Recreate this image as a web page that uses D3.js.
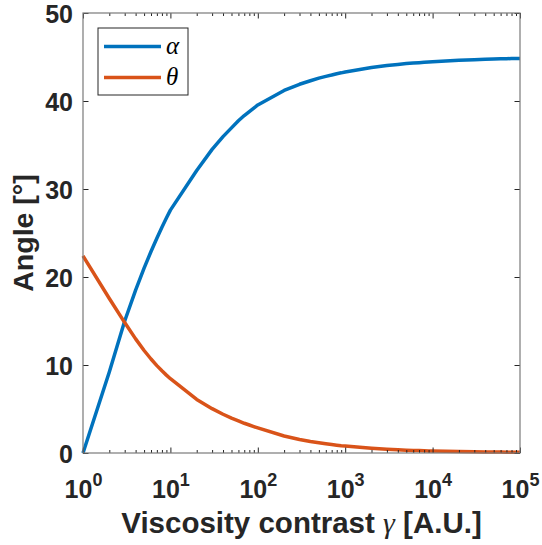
<!DOCTYPE html>
<html>
<head>
<meta charset="utf-8">
<script src="https://cdn.jsdelivr.net/npm/d3@7"></script>
<style>
  body { margin: 0; background: #fff; }
  svg { display: block; }
</style>
</head>
<body>
<svg id="chart" width="542" height="545"></svg>
<script>
// viscosity contrast samples (x) and the two angles
const gammaValues = [
    1, 2, 3, 4, 5, 6, 7, 8, 9,
    10, 20, 30, 40, 50, 60, 70, 80, 90,
    100, 200, 300, 400, 500, 600, 700, 800, 900,
    1000, 2000, 3000, 4000, 5000, 6000, 7000, 8000, 9000,
    10000, 20000, 30000, 40000, 50000, 60000, 70000, 80000, 90000,
    100000
];
const alphaValues = [
    0, 9.2, 15.0, 18.5, 21.0, 22.9, 24.4, 25.65, 26.7,
    27.6, 32.1, 34.5, 35.95, 36.95, 37.75, 38.35, 38.8, 39.2,
    39.55, 41.2, 41.9, 42.3, 42.6, 42.8, 42.95, 43.1, 43.2,
    43.3, 43.8, 44.03, 44.16, 44.25, 44.31, 44.36, 44.41, 44.44,
    44.47, 44.63, 44.7, 44.74, 44.77, 44.79, 44.81, 44.82, 44.83,
    44.84
];
const thetaValues = [
    22.4, 17.56, 14.82, 12.97, 11.65, 10.68, 9.93, 9.34, 8.85,
    8.44, 6.09, 5.04, 4.4, 3.96, 3.64, 3.38, 3.18, 3.0,
    2.85, 1.93, 1.54, 1.31, 1.16, 1.05, 0.96, 0.89, 0.83,
    0.79, 0.54, 0.43, 0.36, 0.32, 0.29, 0.27, 0.25, 0.23,
    0.22, 0.16, 0.14, 0.12, 0.11, 0.10, 0.094, 0.088, 0.084,
    0.08
];

const seriesNames = ['α', 'θ'];
const seriesColors = ['#0072BD', '#D95319'];
const xMajorTicks = [1, 10, 100, 1000, 1e4, 1e5];
const yTicks = [0, 10, 20, 30, 40, 50];

class LogLineChart {
    constructor(_config) {
        this.config = {
            parentElement: _config.parentElement,
            containerWidth: _config.containerWidth || 542,
            containerHeight: _config.containerHeight || 545,
            margin: _config.margin || { top: 13, right: 22, bottom: 92, left: 83 }
        };
        this.initVis();
    }

    initVis() {
        let vis = this;
        vis.width = vis.config.containerWidth - vis.config.margin.left - vis.config.margin.right;
        vis.height = vis.config.containerHeight - vis.config.margin.top - vis.config.margin.bottom;

        vis.svg = d3.select(vis.config.parentElement);
        vis.svg.append('rect')
            .attr('width', vis.config.containerWidth)
            .attr('height', vis.config.containerHeight)
            .attr('fill', '#fff');

        vis.chart = vis.svg.append('g')
            .attr('transform', `translate(${vis.config.margin.left},${vis.config.margin.top})`);

        vis.xScale = d3.scaleLog().domain([1, 1e5]).range([0, vis.width]);
        vis.yScale = d3.scaleLinear().domain([0, 50]).range([vis.height, 0]);

        // minor log ticks: 2..9 in each decade
        vis.xMinorTicks = [];
        xMajorTicks.slice(0, -1).forEach(d => {
            for (let k = 2; k <= 9; k++) vis.xMinorTicks.push(d * k);
        });

        vis.renderVis();
    }

    renderVis() {
        let vis = this;
        const axisColor = '#262626';
        const fontFamily = '"Liberation Sans", Arial, Helvetica, sans-serif';

        // white plot box
        vis.chart.append('rect')
            .attr('width', vis.width)
            .attr('height', vis.height)
            .attr('fill', '#fff');

        // series lines (plain segments between samples, like the original plot)
        const line = d3.line()
            .x((d, i) => vis.xScale(gammaValues[i]))
            .y(d => vis.yScale(d));

        [alphaValues, thetaValues].forEach((vals, i) => {
            vis.chart.append('path')
                .datum(vals)
                .attr('fill', 'none')
                .attr('stroke', seriesColors[i])
                .attr('stroke-width', 3.5)
                .attr('stroke-linejoin', 'round')
                .attr('d', line);
        });

        // axes with inward ticks on all four sides
        const styleAxis = g => {
            g.select('.domain').remove();
            g.selectAll('line').attr('stroke', axisColor).attr('stroke-width', 1);
        };

        vis.chart.append('g')
            .attr('transform', `translate(0,${vis.height})`)
            .call(d3.axisBottom(vis.xScale).tickValues(vis.xMinorTicks).tickSize(-3).tickFormat(''))
            .call(styleAxis);
        vis.chart.append('g')
            .call(d3.axisTop(vis.xScale).tickValues(vis.xMinorTicks).tickSize(-3).tickFormat(''))
            .call(styleAxis);
        vis.chart.append('g')
            .call(d3.axisTop(vis.xScale).tickValues(xMajorTicks).tickSize(-5.5).tickFormat(''))
            .call(styleAxis);

        const xAxisG = vis.chart.append('g')
            .attr('transform', `translate(0,${vis.height})`)
            .call(d3.axisBottom(vis.xScale).tickValues(xMajorTicks).tickSize(-5.5).tickPadding(0).tickFormat(''))
            .call(styleAxis);

        xAxisG.selectAll('.tick').append('text')
            .attr('y', 45)
            .attr('text-anchor', 'middle')
            .attr('fill', axisColor)
            .attr('font-family', fontFamily)
            .attr('font-weight', 'bold')
            .attr('font-size', 25)
            .each(function (d) {
                const t = d3.select(this);
                t.append('tspan').text('10');
                t.append('tspan')
                    .attr('dy', -12)
                    .attr('font-size', 18)
                    .text(Math.round(Math.log10(d)));
            });

        const yAxisG = vis.chart.append('g')
            .call(d3.axisLeft(vis.yScale).tickValues(yTicks).tickSize(-5.5).tickPadding(10))
            .call(styleAxis);
        yAxisG.selectAll('text')
            .attr('fill', axisColor)
            .attr('font-family', fontFamily)
            .attr('font-weight', 'bold')
            .attr('font-size', 25)
            .attr('dy', '0.36em');

        vis.chart.append('g')
            .attr('transform', `translate(${vis.width},0)`)
            .call(d3.axisRight(vis.yScale).tickValues(yTicks).tickSize(-5.5).tickFormat(''))
            .call(styleAxis);

        // axes box
        vis.chart.append('rect')
            .attr('width', vis.width)
            .attr('height', vis.height)
            .attr('fill', 'none')
            .attr('stroke', '#7a7a7a')
            .attr('stroke-width', 1.2);

        // axis titles
        const xTitle = vis.chart.append('text')
            .attr('x', vis.width / 2)
            .attr('y', vis.height + 80)
            .attr('text-anchor', 'middle')
            .attr('fill', axisColor)
            .attr('font-family', fontFamily)
            .attr('font-weight', 'bold')
            .attr('font-size', 29.5);
        xTitle.append('tspan').text('Viscosity contrast ');
        xTitle.append('tspan')
            .attr('font-family', '"Liberation Serif", "DejaVu Serif", serif')
            .attr('font-style', 'italic')
            .attr('font-weight', 'normal')
            .attr('font-size', 30)
            .text('γ');
        xTitle.append('tspan').text(' [A.U.]');

        vis.chart.append('text')
            .attr('transform', `translate(-50,${vis.height / 2}) rotate(-90)`)
            .attr('text-anchor', 'middle')
            .attr('fill', axisColor)
            .attr('font-family', fontFamily)
            .attr('font-weight', 'bold')
            .attr('font-size', 28.5)
            .text('Angle [°]');

        // legend
        const legend = vis.chart.append('g')
            .attr('transform', 'translate(15,15)');
        legend.append('rect')
            .attr('width', 90)
            .attr('height', 67)
            .attr('fill', '#fff')
            .attr('stroke', axisColor)
            .attr('stroke-width', 1);
        seriesNames.forEach((name, i) => {
            const yPos = 18.5 + i * 31;
            legend.append('line')
                .attr('x1', 6)
                .attr('x2', 63)
                .attr('y1', yPos)
                .attr('y2', yPos)
                .attr('stroke', seriesColors[i])
                .attr('stroke-width', 3.5);
            legend.append('text')
                .attr('x', 68)
                .attr('y', yPos + 7)
                .attr('fill', '#000')
                .attr('font-family', '"Liberation Serif", "DejaVu Serif", serif')
                .attr('font-style', 'italic')
                .attr('font-size', 25)
                .text(name);
        });
    }
}

new LogLineChart({ parentElement: '#chart' });
</script>
</body>
</html>
